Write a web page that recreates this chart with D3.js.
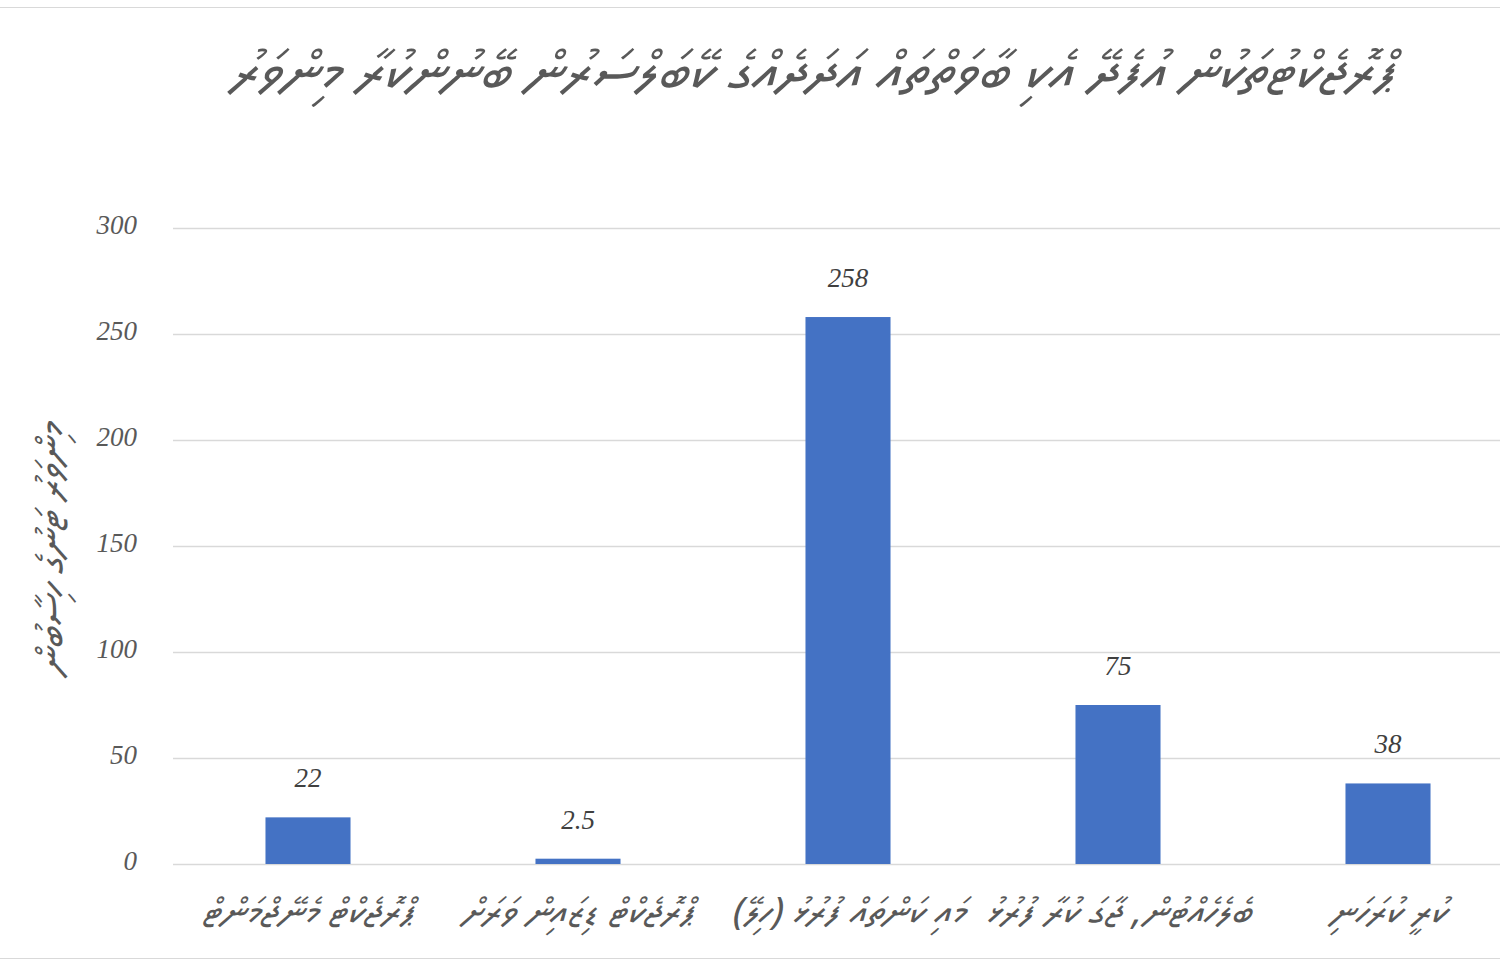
<!DOCTYPE html>
<html>
<head>
<meta charset="utf-8">
<script src="https://cdn.jsdelivr.net/npm/d3@7"></script>
<style>
    body { margin: 0; background: #fff; }
    svg { display: block; }
</style>
</head>
<body>
<div id="chart-container"></div>
<script>
const titleText = "ޕްރޮޖެކްޓުތަކުން އުފެދޭ އެކި ބާވަތްތައް އަދަދެއްގެ ކޭބަލްސަރުން ބޭނުންކުރާ މިންވަރު";
const yLabelText = "މިންވަރު ޓަނުގެ ހިސާބުން";
const categories = [
    "ޕްރޮޖެކްޓް މެނޭޖްމަންޓް",
    "ޕްރޮޖެކްޓް ޑިޒައިން ވަރަށް",
    "މައި ކަންތައް ފުރުޅު (ހިލޭ)",
    "ބެލެހެއްޓުން، ޖާގަ ކުރާ ފުރުޅު",
    "ކުރީ ކުރަހަނި"
];
const values = [22, 2.5, 258, 75, 38];
const valueLabels = ["22", "2.5", "258", "75", "38"];
const yTicks = [0, 50, 100, 150, 200, 250, 300];

const thaanaFont = "'MV Faseyha', Faruma, 'Noto Sans Thaana', 'DejaVu Sans', sans-serif";
const numberFont = "'Liberation Serif', 'DejaVu Serif', serif";

drawChart();

function drawChart() {
    const width = 1500;
    const height = 967;
    const plot = { left: 173, right: 1523, top: 228, bottom: 864 };

    const svg = d3
        .select("#chart-container")
        .append("svg")
        .attr("width", width)
        .attr("height", height);

    //chart area border
    svg.append("line")
        .attr("x1", 0).attr("x2", width)
        .attr("y1", 7.5).attr("y2", 7.5)
        .attr("stroke", "#d9d9d9");
    svg.append("line")
        .attr("x1", 0).attr("x2", width)
        .attr("y1", 958.5).attr("y2", 958.5)
        .attr("stroke", "#d9d9d9");

    //title
    svg.append("text")
        .attr("x", 812)
        .attr("y", 90)
        .attr("text-anchor", "middle")
        .attr("direction", "rtl")
        .style("font-family", thaanaFont)
        .style("font-size", "57px")
        .style("font-style", "italic")
        .attr("fill", "#595959")
        .text(titleText);

    const x = d3
        .scaleBand()
        .domain(categories)
        .range([plot.left, plot.right])
        .paddingInner(0.685)
        .paddingOuter(0.3425);

    const y = d3
        .scaleLinear()
        .domain([0, 300])
        .range([plot.bottom, plot.top]);

    //gridlines
    svg.append("g")
        .selectAll("line")
        .data(yTicks)
        .enter()
        .append("line")
        .attr("x1", plot.left)
        .attr("x2", width)
        .attr("y1", d => Math.round(y(d)) + 0.5)
        .attr("y2", d => Math.round(y(d)) + 0.5)
        .attr("stroke", "#d9d9d9")
        .attr("stroke-width", 1.3);

    //y axis
    const yAxis = d3
        .axisLeft(y)
        .tickValues(yTicks)
        .tickSize(0)
        .tickPadding(0);

    svg.append("g")
        .attr("transform", "translate(137, 0)")
        .call(yAxis)
        .call(g => g.select(".domain").remove())
        .selectAll("text")
        .attr("dy", "0.2em")
        .style("font-family", numberFont)
        .style("font-style", "italic")
        .style("font-size", "27px")
        .attr("fill", "#595959");

    //y label
    svg.append("text")
        .attr("transform", "translate(64, 550) rotate(-90)")
        .attr("text-anchor", "middle")
        .attr("direction", "rtl")
        .style("font-family", thaanaFont)
        .style("font-size", "40px")
        .style("font-style", "italic")
        .attr("fill", "#595959")
        .text(yLabelText);

    //bars
    svg.append("g")
        .selectAll("rect")
        .data(values)
        .enter()
        .append("rect")
        .attr("x", (d, i) => x(categories[i]))
        .attr("y", d => y(d))
        .attr("width", x.bandwidth())
        .attr("height", d => y(0) - y(d))
        .attr("fill", "#4472c4");

    //value labels
    svg.append("g")
        .selectAll("text")
        .data(values)
        .enter()
        .append("text")
        .attr("x", (d, i) => x(categories[i]) + x.bandwidth() / 2)
        .attr("y", d => y(d) - 30)
        .attr("text-anchor", "middle")
        .style("font-family", numberFont)
        .style("font-style", "italic")
        .style("font-size", "27px")
        .attr("fill", "#404040")
        .text((d, i) => valueLabels[i]);

    //x labels
    const xAxis = d3.axisBottom(x).tickSize(0).tickPadding(0);

    svg.append("g")
        .attr("transform", `translate(0, ${plot.bottom})`)
        .call(xAxis)
        .call(g => g.select(".domain").remove())
        .selectAll("text")
        .attr("y", 60)
        .attr("dy", 0)
        .attr("direction", "rtl")
        .style("font-family", thaanaFont)
        .style("font-size", "38px")
        .style("font-style", "italic")
        .attr("fill", "#595959");
}
</script>
</body>
</html>
